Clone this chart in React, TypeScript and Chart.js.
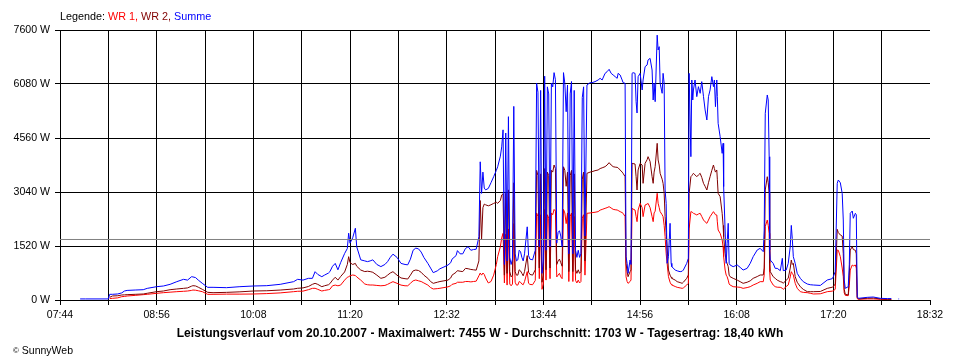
import React, { useEffect, useRef } from "react";
import { Chart, registerables } from "chart.js";

Chart.register(...registerables);

// time of day in minutes since midnight
const TIMES: number[] = [
  479, 483, 500, 501, 503, 507, 510, 512, 514, 520, 526, 529, 536, 541, 546, 551, 556, 559, 562, 563,
  565, 567, 570, 574, 578, 588, 598, 608, 618, 628, 638, 641, 645, 649, 652, 654, 656, 659, 661, 664,
  665, 667, 669, 671, 673, 676, 678, 679, 680, 682, 684, 685, 688, 691, 693, 695, 697, 700, 703, 706,
  708, 710, 712, 715, 718, 721, 723, 725, 727, 729, 731, 733, 735, 738, 740, 742, 745, 747, 750, 753,
  755, 756, 759, 760, 762, 764, 766, 768, 770, 772, 774, 776, 777, 778, 779, 780, 781, 783, 785, 787,
  789, 790, 792, 793, 794, 795, 796, 797, 798, 799, 800, 801, 802, 803, 804, 805, 806, 807, 808, 809,
  810, 812, 813, 814, 816, 818, 819, 820, 821, 822, 823, 824, 825, 826, 827, 828, 829, 830, 831, 832,
  833, 834, 835, 836, 837, 838, 839, 840, 841, 842, 843, 844, 845, 846, 847, 848, 849, 850, 851, 852,
  853, 854, 855, 856.5, 858.8, 860.3, 862.5, 864.8, 866.3, 867.8, 870, 871.5, 873, 874.5, 876, 877.5, 879, 879.7, 881.2, 882.7,
  883.4, 884.9, 885.6, 886.4, 887.1, 888.6, 889.3, 890.1, 890.8, 892.3, 893.1, 893.8, 894.6, 896.1, 897.6, 898.3, 899.8, 901.3, 902, 903.5,
  905, 905.8, 906.5, 907.3, 908.8, 909.5, 910.3, 911, 912.5, 913.2, 914, 914.7, 915.5, 916.2, 917.2, 918.4, 919.2, 919.7, 922.2, 923.7,
  925.9, 927.4, 928.3, 930.8, 932, 932.6, 933.9, 934.6, 935.3, 935.8, 937, 938.3, 939.5, 940.8, 942, 943.3, 944.5, 945.8, 947, 948.2,
  949.5, 950.7, 951.4, 952.2, 953.2, 953.6, 954.2, 955.7, 957.2, 957.9, 958.3, 959.4, 960.2, 960.9, 961.7, 962.4, 963.1, 965.4, 968.4, 970.6,
  972.8, 975.8, 978.1, 980.3, 983.3, 985.5, 987.8, 988.5, 989.3, 990.8, 991.5, 992.2, 992.6, 993, 995.2, 996.7, 998.2, 1000.5, 1002, 1002.7,
  1004.9, 1006.4, 1007.9, 1008.7, 1009.4, 1010.2, 1011.6, 1013.1, 1015.4, 1017.6, 1020.6, 1022.8, 1025.1, 1030.3, 1035.5, 1039.2, 1040, 1041.4, 1042.9, 1043.7,
  1045.2, 1046.6, 1047.4, 1048.1, 1048.9, 1051.1, 1051.9, 1052.6, 1054.1, 1054.9, 1056.4, 1057.1, 1057.8, 1058.6, 1065.3, 1069.8, 1075, 1080.2, 1083.2, 1084,
  1088.5, 1089,
];

// Summe (W)
const SUMME: (number | null)[] = [
  30, 30, 30, 160, 160, 170, 200, 253, 270, 281, 290, 328, 375, 394, 441, 516, 582, 560, 656, 650,
  630, 560, 469, 357, 357, 347, 375, 394, 403, 441, 516, 582, 560, 610, 610, 797, 720, 656, 700, 760,
  797, 950, 1030, 850, 1050, 1310, 1450, 1880, 1600, 1750, 2020, 1500, 1130, 1100, 1080, 1100, 1130, 1000, 940, 1000,
  1080, 1200, 1290, 1200, 1030, 1000, 990, 1150, 1400, 1460, 1440, 1350, 1200, 1030, 900, 770, 820, 880, 930, 985,
  1050, 1150, 1250, 1390, 1300, 1300, 1450, 1500, 1400, 1420, 1430, 1780, 3890, 3000, 3600, 3150, 3100, 3140, 3300, 3470,
  3650, 3750, 4050, 4310, 4790, 1000, 4700, 1100, 5160, 1200, 1000, 1150, 5450, 1300, 1100, 1130, 1400, 1360, 1200, 1100,
  1300, 2060, 1250, 1150, 1130, 1400, 6100, 5850, 1500, 5900, 750, 1100, 6300, 1400, 6000, 5800, 1500, 6100, 6000, 6400,
  6200, 1600, 1900, 1950, 1800, 1500, 6400, 6100, 5300, 6050, 1300, 5800, 6150, 1300, 5900, 1400, 1200, 1400, 1200, 1300,
  5700, 6000, 1800, 6052, 6118, 6118, 6146, 6193, 6240, 6193, 6380, 6427, 6493, 6380, 6334, 6287, 6240, 6380, 6334, 6193,
  6118, 6099, 1220, 1032, 751, 1126, 1000, 6380, 6399, 6380, 5583, 5264, 6287, 6380, 5912, 6193, 6568, 6615, 6756, 6803,
  6474, 5630, 6099, 5583, 7455, 7037, 7131, 6099, 5818, 6380, 6099, 3096, 2721, 1032, 1220, 2158, 1032, 938, 844, 820,
  797, 810, 844, 1032, 1173, 6380, 4034, 6193, 5630, 5912, 6193, 5724, 6005, 5818, 6146, 5724, 5349, 5067, 5724, 5912,
  6287, 6005, 6193, 5442, 6193, 5724, 4973, 4598, 4128, 4410, 3190, 1970, 1032, 1595, 2158, 1032, 985, 938, 985, 919,
  844, 891, 1032, 1220, 1407, 1455, 1360, 1970, 5255, 5771, 5630, 4034, 1407, 1126, 1030, 891, 891, 826, 1173, 826,
  844, 1032, 1501, 2100, 1736, 1220, 1030, 751, 610, 516, 450, 430, 422, 410, 563, 600, 656, 800, 3284, 3378,
  3300, 3003, 2252, 563, 328, 375, 1000, 2440, 2505, 2300, 2440, 2400, 94, 47, 75, 84, 47, 40, 40, null,
  30, 30,
];

// WR 2 (W)
const WR2: (number | null)[] = [
  null, null, null, 75, 113, 120, 141, 145, 150, 160, 169, 190, 234, 253, 290, 310, 328, 340, 390, 403,
  395, 360, 300, 216, 206, 215, 230, 253, 260, 280, 310, 330, 340, 380, 441, 469, 440, 375, 400, 430,
  460, 560, 640, 560, 660, 790, 1000, 1220, 1050, 1000, 1030, 950, 844, 800, 810, 800, 780, 700, 610, 640,
  700, 760, 797, 700, 620, 600, 590, 700, 820, 844, 830, 780, 700, 610, 520, 469, 500, 520, 540, 560,
  620, 700, 780, 826, 810, 800, 891, 880, 860, 850, 840, 1100, 2800, 1700, 2600, 2700, 2680, 2650, 2680, 2720,
  2750, 2721, 2800, 2956, 2990, 700, 3003, 750, 3100, 800, 650, 700, 3300, 800, 700, 700, 850, 820, 750, 680,
  800, 1250, 780, 720, 700, 850, 3650, 3500, 900, 3550, 500, 700, 3700, 850, 3600, 3500, 900, 3650, 3600, 3800,
  3700, 1000, 1100, 1150, 1050, 950, 3750, 3650, 3200, 3600, 800, 3500, 3650, 800, 3550, 850, 750, 850, 750, 800,
  3400, 3600, 1100, 3566, 3600, 3613, 3640, 3660, 3700, 3720, 3753, 3800, 3866, 3800, 3753, 3740, 3734, 3720, 3660, 3600,
  3566, 3471, 1032, 800, 656, 800, 844, 3847, 3840, 3828, 3471, 3096, 3660, 3847, 3800, 3284, 3847, 3950, 4034, 3900,
  3471, 3284, 3600, 3753, 4410, 3941, 3800, 3566, 3400, 3284, 3000, 2346, 1900, 1501, 844, 700, 640, 610, 560, 516,
  490, 469, 500, 610, 704, 3000, 3471, 3500, 3540, 3566, 3520, 3471, 3520, 3566, 3450, 3284, 3200, 3096, 3300, 3471,
  3650, 3800, 3700, 3600, 3660, 3400, 3003, 2909, 2440, 2100, 1783, 1314, 1100, 1032, 938, 700, 656, 610, 560, 516,
  469, 500, 540, 610, 660, 704, 704, 900, 3096, 3471, 3300, 3003, 1032, 800, 656, 610, 560, 516, 500, 469,
  560, 610, 900, 1126, 1000, 1032, 656, 500, 375, 300, 234, 234, 234, 240, 328, 360, 375, 450, 1989, 1900,
  1830, 1800, 1300, 300, 160, 141, 700, 1407, 1500, 1420, 1400, 1300, 70, 30, 50, 55, 30, 20, 20, null,
  null, null,
];

// WR 1 (W)
const WR1: (number | null)[] = [
  null, null, null, 40, 47, 60, 94, 100, 113, 130, 150, 160, 188, 206, 220, 234, 245, 253, 270, 281,
  275, 260, 234, 160, 160, 165, 165, 169, 180, 200, 234, 245, 250, 290, 328, 330, 300, 253, 270, 290,
  300, 400, 420, 400, 420, 560, 640, 656, 680, 704, 690, 650, 560, 450, 430, 422, 422, 410, 400, 410,
  440, 480, 516, 470, 420, 400, 400, 470, 540, 563, 540, 520, 480, 420, 350, 310, 320, 330, 350, 370,
  400, 440, 470, 500, 500, 500, 520, 520, 510, 520, 530, 680, 760, 700, 760, 720, 620, 480, 520, 700,
  1000, 1220, 1501, 1750, 1876, 480, 1850, 420, 2000, 450, 400, 450, 2150, 500, 420, 420, 520, 500, 450, 430,
  520, 800, 470, 440, 430, 550, 2450, 2350, 600, 2400, 300, 450, 2550, 560, 2400, 2300, 600, 2450, 2400, 2550,
  2500, 650, 700, 750, 650, 600, 2550, 2450, 2150, 2450, 520, 2350, 2450, 520, 2350, 550, 480, 560, 480, 520,
  2300, 2400, 700, 2440, 2450, 2459, 2470, 2487, 2530, 2550, 2580, 2600, 2627, 2590, 2552, 2540, 2533, 2520, 2487, 2460,
  2440, 2346, 656, 520, 469, 520, 563, 2580, 2560, 2533, 2350, 2205, 2533, 2721, 2600, 2346, 2674, 2700, 2721, 2600,
  2346, 2205, 2450, 2500, 3003, 2721, 2600, 2487, 2400, 2346, 2100, 1783, 1300, 1032, 656, 500, 440, 422, 380, 357,
  340, 328, 340, 422, 469, 2000, 2487, 2480, 2460, 2440, 2420, 2393, 2420, 2440, 2350, 2252, 2200, 2158, 2250, 2346,
  2420, 2487, 2450, 2400, 2393, 2200, 1970, 1876, 1689, 1500, 1220, 844, 700, 656, 560, 450, 422, 375, 365, 357,
  328, 350, 375, 422, 470, 516, 516, 700, 2064, 2252, 2100, 1876, 797, 560, 422, 375, 360, 357, 330, 300,
  380, 422, 650, 797, 750, 704, 469, 330, 234, 215, 206, 190, 169, 175, 234, 250, 260, 300, 1407, 1400,
  1220, 900, 656, 200, 130, 122, 400, 844, 985, 960, 985, 900, 40, 20, 30, 30, 20, 10, 10, null,
  null, null,
];

const AVERAGE = 1703;
const X_MIN = 464; // 07:44
const X_MAX = 1112; // 18:32
const X_STEP = 36;
const Y_MAX = 7600;
const Y_STEP = 1520;

const LEGEND_ITEMS = [
  { text: "WR 1", color: "#ff0000" },
  { text: "WR 2", color: "#800000" },
  { text: "Summe", color: "#0000ff" },
];

const TITLE =
  "Leistungsverlauf vom 20.10.2007 - Maximalwert: 7455 W - Durchschnitt: 1703 W - Tagesertrag: 18,40 kWh";

const FONT = "'Liberation Sans', Arial, sans-serif";

function fmtTime(v: number): string {
  const h = Math.floor(v / 60);
  const m = Math.round(v - h * 60);
  return String(h).padStart(2, "0") + ":" + String(m).padStart(2, "0");
}

function toPoints(values: (number | null)[]) {
  return TIMES.map((t, i) => ({ x: t, y: values[i] }));
}

export default function App() {
  const canvasRef = useRef<HTMLCanvasElement | null>(null);

  useEffect(() => {
    const canvas = canvasRef.current;
    if (!canvas) return;
    const chart = new Chart(canvas, {
      type: "line",
      data: {
        datasets: [
          {
            label: "Durchschnitt",
            data: [
              { x: X_MIN, y: AVERAGE },
              { x: X_MAX, y: AVERAGE },
            ],
            borderColor: "#808080",
            borderWidth: 1,
            pointRadius: 0,
          },
          {
            label: "Summe",
            data: toPoints(SUMME),
            borderColor: "#0000ff",
            borderWidth: 1,
            pointRadius: 0,
            tension: 0,
            spanGaps: false,
          },
          {
            label: "WR 2",
            data: toPoints(WR2),
            borderColor: "#800000",
            borderWidth: 1,
            pointRadius: 0,
            tension: 0,
            spanGaps: false,
          },
          {
            label: "WR 1",
            data: toPoints(WR1),
            borderColor: "#ff0000",
            borderWidth: 1,
            pointRadius: 0,
            tension: 0,
            spanGaps: false,
          },
        ],
      },
      options: {
        animation: false,
        responsive: false,
        devicePixelRatio: 1,
        layout: { padding: { top: 30, right: 30, left: 0, bottom: 0 } },
        plugins: {
          legend: { display: false },
          tooltip: { enabled: false },
          title: { display: false },
        },
        elements: { line: { borderJoinStyle: "miter" } },
        scales: {
          x: {
            type: "linear",
            min: X_MIN,
            max: X_MAX,
            afterFit: (scale: any) => {
              scale.height = 60;
            },
            ticks: {
              stepSize: X_STEP,
              maxTicksLimit: 100,
              autoSkip: false,
              maxRotation: 0,
              minRotation: 0,
              padding: 4,
              color: "#000",
              font: { family: FONT, size: 10.5 },
              callback: (value: any, index: number) =>
                index % 2 === 0 ? fmtTime(Number(value)) : "",
            },
            grid: {
              color: (ctx: any) =>
                ctx.tick && ctx.tick.value === X_MAX ? "rgba(0,0,0,0)" : "#000",
              tickColor: "#000",
              tickLength: 5,
              lineWidth: 1,
            },
            border: { color: "#000", width: 1 },
          },
          y: {
            min: 0,
            max: Y_MAX,
            afterFit: (scale: any) => {
              scale.width = 60;
            },
            ticks: {
              stepSize: Y_STEP,
              maxTicksLimit: 100,
              padding: 5,
              color: "#000",
              font: { family: FONT, size: 10.6 },
              callback: (value: any) => value + " W",
            },
            grid: {
              color: "#000",
              tickColor: "#000",
              tickLength: 5,
              lineWidth: 1,
            },
            border: { color: "#000", width: 1 },
          },
        },
      },
    });
    return () => chart.destroy();
  }, []);

  return (
    <div
      style={{
        position: "absolute",
        left: 0,
        top: 0,
        width: 960,
        height: 360,
        background: "#fff",
        fontFamily: FONT,
        color: "#000",
      }}
    >
      <canvas
        ref={canvasRef}
        width={960}
        height={360}
        style={{ position: "absolute", left: 0, top: 0, width: 960, height: 360 }}
      />
      <div
        style={{
          position: "absolute",
          left: 60,
          top: 11,
          fontSize: 10.8,
          lineHeight: "10.8px",
          whiteSpace: "nowrap",
        }}
      >
        <span>Legende: </span>
        {LEGEND_ITEMS.map((item, i) => (
          <span key={item.text} style={{ color: item.color }}>
            {item.text}
            {i < LEGEND_ITEMS.length - 1 ? ", " : ""}
          </span>
        ))}
      </div>
      <div
        style={{
          position: "absolute",
          left: 0,
          top: 327,
          width: 960,
          textAlign: "center",
          fontSize: 12,
          lineHeight: "12px",
          fontWeight: "bold",
          letterSpacing: "0.1px",
          whiteSpace: "nowrap",
        }}
      >
        {TITLE}
      </div>
      <div
        style={{
          position: "absolute",
          left: 13,
          top: 345,
          fontSize: 10.5,
          lineHeight: "10.5px",
          whiteSpace: "nowrap",
        }}
      >
        <span style={{ fontSize: 8, verticalAlign: "1px" }}>©</span> SunnyWeb
      </div>
    </div>
  );
}
